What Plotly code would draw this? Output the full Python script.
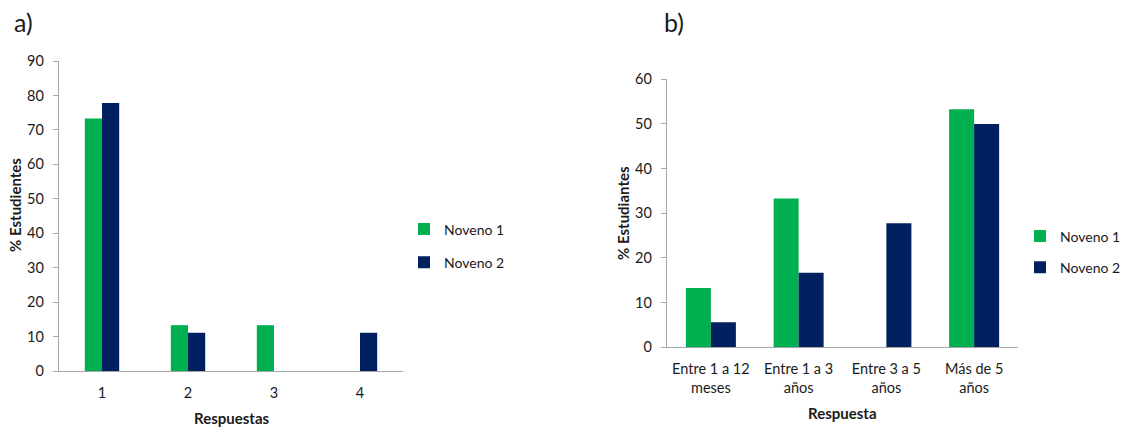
import plotly.graph_objects as go

# ---- data ----
cats_a = ["1", "2", "3", "4"]
noveno1_a = [73.3, 13.3, 13.3, 0]
noveno2_a = [77.8, 11.1, 0, 11.1]

cats_b = ["Entre 1 a 12<br>meses", "Entre 1 a 3<br>años", "Entre 3 a 5<br>años", "Más de 5<br>años"]
noveno1_b = [13.3, 33.3, 0, 53.3]
noveno2_b = [5.6, 16.7, 27.8, 50.0]

series_names = ["Noveno 1", "Noveno 2"]
GREEN = "#00B050"
NAVY = "#002060"

W, H = 1138, 427
FONT = "Lato, 'Open Sans', sans-serif"
TXT = "#1a1a1a"
AXC = "#a6a6a6"

fig = go.Figure()

wa = 0.2
fig.add_trace(go.Bar(x=cats_a, y=noveno1_a, name=series_names[0], marker_color=GREEN,
                     marker_line_width=0,
                     width=wa, offset=-wa, xaxis="x", yaxis="y", legend="legend",
                     legendgroup="a1"))
fig.add_trace(go.Bar(x=cats_a, y=noveno2_a, name=series_names[1], marker_color=NAVY,
                     marker_line_width=0,
                     width=wa, offset=0, xaxis="x", yaxis="y", legend="legend",
                     legendgroup="a2"))
wb = 0.285
fig.add_trace(go.Bar(x=cats_b, y=noveno1_b, name=series_names[0], marker_color=GREEN,
                     marker_line_width=0,
                     width=wb, offset=-wb, xaxis="x2", yaxis="y2", legend="legend2",
                     legendgroup="b1"))
fig.add_trace(go.Bar(x=cats_b, y=noveno2_b, name=series_names[1], marker_color=NAVY,
                     marker_line_width=0,
                     width=wb, offset=0, xaxis="x2", yaxis="y2", legend="legend2",
                     legendgroup="b2"))

def px_x(p):
    return p / W

def px_y(p):
    return 1 - p / H

axis_common = dict(showline=True, linecolor=AXC, linewidth=1.3, showgrid=False, zeroline=False,
                   automargin=False,
                   tickfont=dict(family=FONT, size=14.5, color=TXT))

fig.update_layout(
    template="none",
    width=W, height=H,
    margin=dict(l=0, r=0, t=0, b=0, pad=0),
    paper_bgcolor="white", plot_bgcolor="white",
    barmode="overlay",
    font=dict(family=FONT, size=14, color=TXT),
    xaxis=dict(domain=[px_x(59), px_x(403)], anchor="y", type="category",
               range=[-0.5, 3.5], ticks="", ticklabelstandoff=8, **axis_common),
    yaxis=dict(domain=[px_y(371), px_y(61)], anchor="x", range=[0, 90], dtick=10,
               ticks="outside", ticklen=5, tickcolor=AXC, tickwidth=1.3,
               ticklabelstandoff=6, **axis_common),
    xaxis2=dict(domain=[px_x(667), px_x(1018)], anchor="y2", type="category",
                range=[-0.5, 3.5], ticks="", ticklabelstandoff=8, **axis_common),
    yaxis2=dict(domain=[px_y(347.3), px_y(79.3)], anchor="x2", range=[0, 60], dtick=10,
                ticks="outside", ticklen=5, tickcolor=AXC, tickwidth=1.3,
                ticklabelstandoff=6, **axis_common),
    legend=dict(x=px_x(404), y=px_y(246), xanchor="left", yanchor="middle",
                traceorder="grouped", tracegroupgap=12,
                font=dict(family=FONT, size=14, color=TXT), bgcolor="rgba(0,0,0,0)"),
    legend2=dict(x=px_x(1020), y=px_y(252), xanchor="left", yanchor="middle",
                 traceorder="grouped", tracegroupgap=10,
                 font=dict(family=FONT, size=14, color=TXT), bgcolor="rgba(0,0,0,0)"),
    annotations=[
        dict(text="a)", x=px_x(12), y=px_y(22), xref="paper", yref="paper",
             xanchor="left", yanchor="middle", showarrow=False,
             font=dict(family=FONT, size=25, color=TXT)),
        dict(text="b)", x=px_x(662), y=px_y(22), xref="paper", yref="paper",
             xanchor="left", yanchor="middle", showarrow=False,
             font=dict(family=FONT, size=25, color=TXT)),
        dict(text="<b>% Estudientes</b>", x=px_x(15), y=px_y(205), xref="paper", yref="paper",
             xanchor="center", yanchor="middle", textangle=-90, showarrow=False,
             font=dict(family=FONT, size=15, color=TXT)),
        dict(text="<b>Respuestas</b>", x=px_x(232), y=px_y(418), xref="paper", yref="paper",
             xanchor="center", yanchor="middle", showarrow=False,
             font=dict(family=FONT, size=15, color=TXT)),
        dict(text="<b>% Estudiantes</b>", x=px_x(623), y=px_y(213), xref="paper", yref="paper",
             xanchor="center", yanchor="middle", textangle=-90, showarrow=False,
             font=dict(family=FONT, size=15, color=TXT)),
        dict(text="<b>Respuesta</b>", x=px_x(842), y=px_y(413), xref="paper", yref="paper",
             xanchor="center", yanchor="middle", showarrow=False,
             font=dict(family=FONT, size=15, color=TXT)),
    ],
)

fig.write_html("out.html")
